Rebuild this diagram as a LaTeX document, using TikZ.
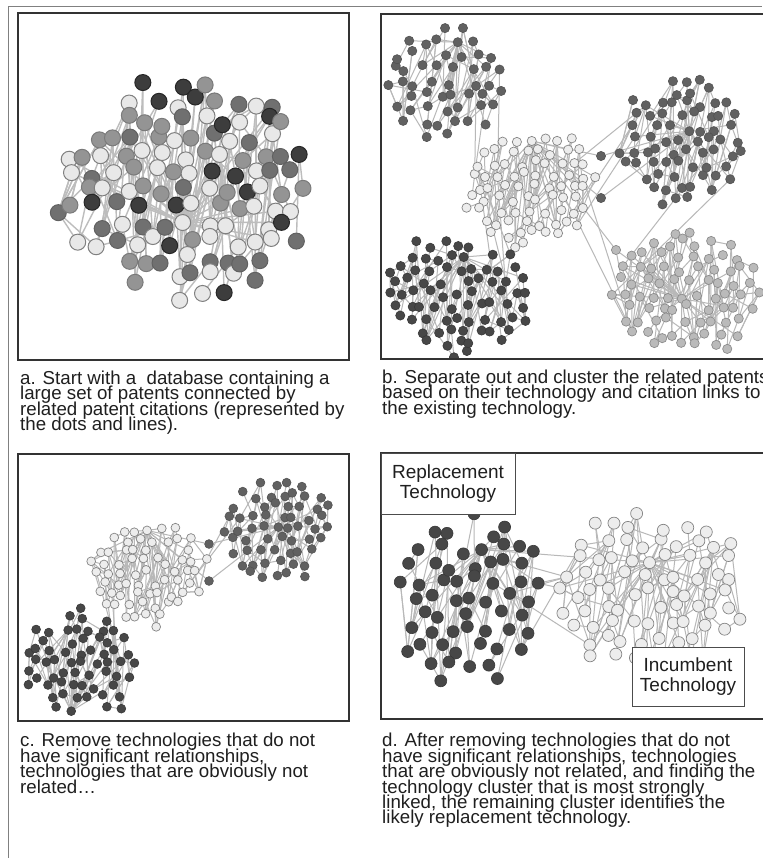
\documentclass[tikz,border=0pt]{standalone}
\usepackage{fontspec}
\newfontfamily\capfont{Liberation Sans}
\usetikzlibrary{positioning}
\newcommand{\capsize}{\capfont\fontsize{18.7pt}{15.4pt}\selectfont}
\newcommand{\labsize}{\capfont\fontsize{19pt}{20.5pt}\selectfont}
\lineskiplimit=-40pt

\tikzset{
	frameline/.style={draw=black!50, line width=1.4pt},
	panelbox/.style={draw=black!80, line width=1.2pt},
	biglink/.style={draw=black!26, line width=1.4pt},
	link/.style={draw=black!28, line width=1pt},
	dotlight/.style={fill=black!9, draw=black!50, line width=1pt},
	dotmid/.style={fill=black!42, draw=black!52, line width=1pt},
	dotgray/.style={fill=black!56, draw=black!62, line width=1pt},
	dotblack/.style={fill=black!76, draw=black!85, line width=1pt},
	dotdark/.style={fill=black!62, draw=black!68, line width=0.6pt},
	dotdeep/.style={fill=black!72, draw=black!78, line width=0.6pt},
	dotpale/.style={fill=black!27, draw=black!45, line width=0.7pt},
	dotwhite/.style={fill=black!7, draw=black!48, line width=0.7pt},
	bdot/.style={circle, inner sep=0pt, minimum size=9.2pt},
	capnode/.style={anchor=north west, inner sep=0pt, align=left, text=black!88, font=\capsize},
	labelbox/.style={draw=black!70, fill=white, line width=1pt, align=center,
		inner sep=0pt, text=black!88, font=\labsize}
}

\pgfmathdeclarerandomlist{mixed}{{dotlight}{dotlight}{dotlight}{dotlight}{dotlight}{dotmid}{dotmid}{dotgray}{dotgray}{dotblack}}
\pgfmathdeclarerandomlist{dark}{{dotdark}}
\pgfmathdeclarerandomlist{deep}{{dotdeep}}
\pgfmathdeclarerandomlist{pale}{{dotpale}}
\pgfmathdeclarerandomlist{white}{{dotwhite}}

% cluster of dots on a jittered grid: name, cx, cy, rx, ry, spacing
\newcounter{dotnum}
\newcommand{\makecluster}[6]{%
	\setcounter{dotnum}{0}%
	\foreach \i in {-8,...,8}{%
		\foreach \j in {-8,...,8}{%
			\pgfmathsetmacro\gx{(\i+0.5*abs(mod(\j,2)))*#6+0.3*#6*rand}%
			\pgfmathsetmacro\gy{\j*0.87*#6+0.3*#6*rand}%
			\pgfmathtruncatemacro\ok{((\gx/#4)*(\gx/#4)+(\gy/#5)*(\gy/#5) < 0.75+0.4*rnd) && (rnd > 0.05) ? 1 : 0}%
			\ifnum\ok=1
				\stepcounter{dotnum}%
				\coordinate (#1-\arabic{dotnum}) at ({#2+\gx},{#3+\gy});
			\fi
		}%
	}%
	\expandafter\xdef\csname dots-#1\endcsname{\arabic{dotnum}}%
	\pgfmathtruncatemacro\hub{max(1,round(\arabic{dotnum}*0.5))}%
	\coordinate (#1-hub) at (#1-\hub);
}
% links inside a cluster: name, share to hub, style
\newcommand{\linkcluster}[3]{%
	\edef\nn{\csname dots-#1\endcsname}%
	\foreach \k in {1,...,\nn}{%
		\pgfmathtruncatemacro\m{min(\nn,max(1,\k+random(0,26)-13))}%
		\draw[#3] (#1-\k) -- (#1-\m);
		\pgfmathtruncatemacro\m{min(\nn,max(1,\k+random(0,16)-8))}%
		\pgfmathtruncatemacro\h{rnd<0.6 ? 1 : 0}%
		\ifnum\h=1 \draw[#3] (#1-\k) -- (#1-\m); \fi
		\pgfmathtruncatemacro\h{rnd<#2 ? 1 : 0}%
		\ifnum\h=1 \draw[#3] (#1-\k) -- (#1-hub); \fi
	}%
}
% dots of a cluster: name, radius, random list of styles
\newcommand{\dotcluster}[3]{%
	\edef\nn{\csname dots-#1\endcsname}%
	\foreach \k in {1,...,\nn}{%
		\pgfmathrandomitem\st{#3}%
		\draw[\st] (#1-\k) circle[radius=#2];
	}%
}
% links from the right part of one cluster to the left part of another
\newcommand{\bridge}[4]{%
	\edef\na{\csname dots-#1\endcsname}%
	\edef\nb{\csname dots-#2\endcsname}%
	\foreach \r in {1,...,#3}{%
		\pgfmathtruncatemacro\ia{max(1,\na*(0.82+0.18*rnd))}%
		\pgfmathtruncatemacro\ib{max(1,\nb*0.18*rnd)}%
		\draw[#4] (#1-\ia) -- (#2-\ib);
	}%
}

\begin{document}
\begin{tikzpicture}[x=1pt,y=-1pt]
	\pgfmathsetseed{12}
	\useasboundingbox (0,0) rectangle (762,858);
	\fill[white] (0,0) rectangle (762,858);
	\draw[frameline] (8.5,858) -- (8.5,6.5) -- (762,6.5);
	
	% a: one mixed cloud
	\begin{scope}
		\clip (18,13) rectangle (349,360);
		\makecluster{pa}{185}{190}{126}{106}{20}
		\linkcluster{pa}{0.2}{biglink}
		\dotcluster{pa}{8pt}{mixed}
	\end{scope}
	\draw[panelbox] (18,13) rectangle (349,360);
	\node[capnode] (capa) at (20,370.7) {a. Start with a~ database containing a\\large set of patents connected by\\related patent citations (represented by\\the dots and lines).};
	
	% b: five clusters
	\begin{scope}
		\clip (381,14) rectangle (770,359);
		\makecluster{bTL}{446}{82}{64}{60}{15.5}
		\makecluster{bC}{532}{187}{68}{62}{13.5}
		\makecluster{bTR}{680}{140}{66}{64}{14}
		\makecluster{bBL}{458}{294}{72}{62}{14}
		\makecluster{bBR}{683}{295}{76}{64}{15}
		\node[bdot, dotdark] (bx1) at (601,156) {};
		\node[bdot, dotdark] (bx2) at (601,198) {};
		\node[bdot, dotpale] (bx3) at (616,250) {};
		\node[bdot, dotpale] (bx4) at (621,277) {};
		\draw[link] (bC-hub) -- (bx1) -- (bTR-hub);
		\draw[link] (bC-hub) -- (bx2) -- (bTR-hub);
		\draw[link] (bC-hub) -- (bx3) -- (bBR-hub);
		\draw[link] (bx3) -- (bx4) -- (bBR-hub);
		\bridge{bTL}{bC}{3}{link}
		\bridge{bC}{bTR}{3}{link}
		\bridge{bBL}{bC}{4}{link}
		\bridge{bC}{bBR}{2}{link}
		\bridge{bTR}{bBR}{2}{link}
		\foreach \c in {bTL,bC,bTR,bBL,bBR}{\linkcluster{\c}{0.3}{link}}
		\dotcluster{bTL}{4.6pt}{dark}
		\dotcluster{bC}{4.6pt}{white}
		\dotcluster{bTR}{4.6pt}{dark}
		\dotcluster{bBL}{4.6pt}{deep}
		\dotcluster{bBR}{4.6pt}{pale}
	\end{scope}
	\draw[panelbox] (381,14) rectangle (770,359);
	\node[capnode] (capb) at (382,369.7) {b. Separate out and cluster the related patents\\based on their technology and citation links to\\the existing technology.};
	
	% c: three clusters left
	\begin{scope}
		\clip (18,454) rectangle (349,721);
		\makecluster{cTR}{275}{529}{58}{54}{13}
		\makecluster{cC}{148}{572}{60}{54}{12.5}
		\makecluster{cBL}{84}{663}{62}{54}{13}
		\node[bdot, dotdark, minimum size=8.8pt] (cx1) at (209,544) {};
		\node[bdot, dotdark, minimum size=8.8pt] (cx2) at (209,581) {};
		\draw[link] (cC-hub) -- (cx1) -- (cTR-hub);
		\draw[link] (cC-hub) -- (cx2) -- (cTR-hub);
		\bridge{cC}{cTR}{2}{link}
		\bridge{cBL}{cC}{4}{link}
		\foreach \c in {cTR,cC,cBL}{\linkcluster{\c}{0.3}{link}}
		\dotcluster{cTR}{4.4pt}{dark}
		\dotcluster{cC}{4.4pt}{white}
		\dotcluster{cBL}{4.4pt}{deep}
	\end{scope}
	\draw[panelbox] (18,454) rectangle (349,721);
	\node[capnode] (capc) at (20,733.1) {c. Remove technologies that do not\\have significant relationships,\\technologies that are obviously not\\related\dots};
	
	% d: replacement and incumbent
	\begin{scope}
		\clip (381,453) rectangle (770,719);
		\makecluster{dL}{470}{598}{76}{88}{19}
		\makecluster{dR}{650}{592}{94}{84}{18.5}
		\draw[link] (dL-hub) -- (dR-hub);
		\bridge{dL}{dR}{6}{link}
		\foreach \c in {dL,dR}{\linkcluster{\c}{0.3}{link}}
		\dotcluster{dL}{6pt}{deep}
		\dotcluster{dR}{6pt}{white}
	\end{scope}
	\draw[panelbox] (381,453) rectangle (770,719);
	\node[labelbox, minimum width=134pt, minimum height=61pt] (repl) at (448,483.5) {Replacement\\Technology};
	\node[labelbox, minimum width=112pt, minimum height=59pt] (incumb) at (688,676.5) {Incumbent\\Technology};
	\node[capnode] (capd) at (382,733.1) {d. After removing technologies that do not\\have significant relationships, technologies\\that are obviously not related, and finding the\\technology cluster that is most strongly\\linked, the remaining cluster identifies the\\likely replacement technology.};
\end{tikzpicture}
\end{document}
